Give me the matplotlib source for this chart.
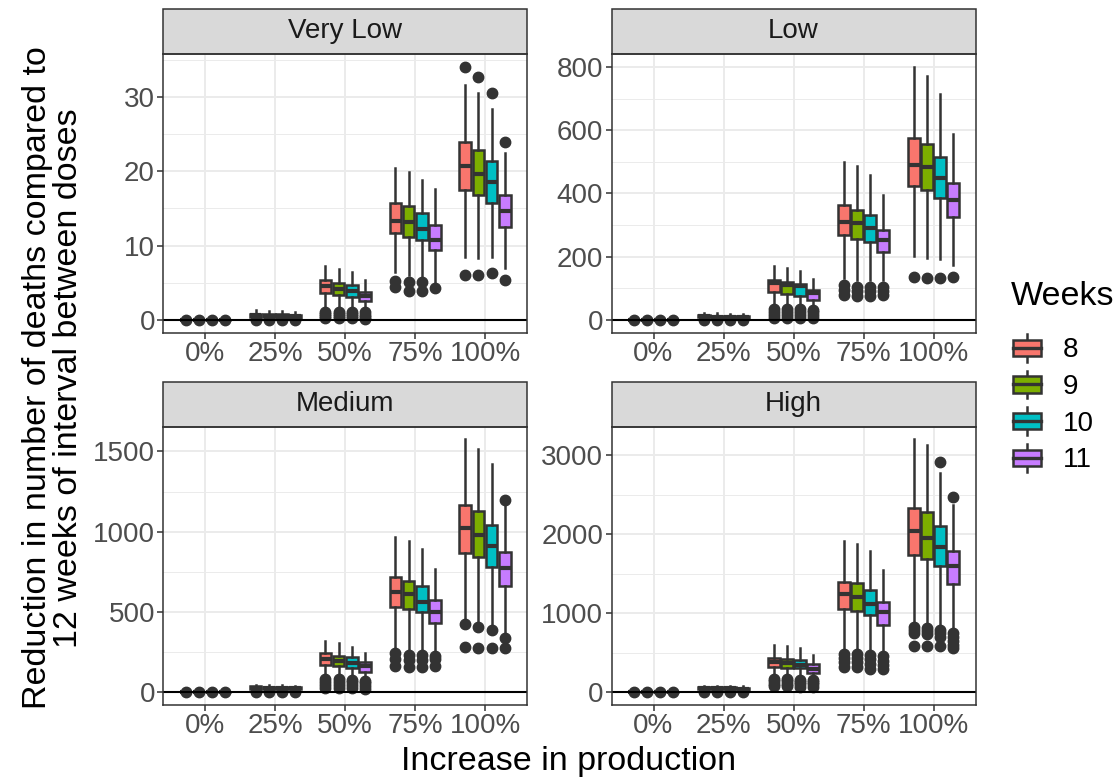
import matplotlib
matplotlib.use('Agg')
import matplotlib.pyplot as plt
from matplotlib.patches import Rectangle, Patch
from matplotlib.lines import Line2D
from matplotlib.legend_handler import HandlerBase
import numpy as np

plt.rcParams['font.family'] = ['Liberation Sans', 'DejaVu Sans']

categories = ['0%', '25%', '50%', '75%', '100%']
weeks = ['8', '9', '10', '11']
week_colors = ['#F8766D', '#7CAE00', '#00BFC4', '#C77CFF']
panels = ['Very Low', 'Low', 'Medium', 'High']

# box statistics: rows = categories, columns = weeks 8..11
# Very Low
vl_whislo = [[0, 0, 0, 0], [0.1, 0.1, 0.05, 0.05], [1.6, 1.6, 1.5, 1.3], [6.4, 6.1, 5.9, 4.9], [8.4, 8.3, 8.4, 7.0]]
vl_q1 = [[0, 0, 0, 0], [0.4, 0.35, 0.3, 0.25], [3.6, 3.4, 3.1, 2.6], [11.7, 11.2, 10.7, 9.4], [17.5, 16.8, 15.7, 12.5]]
vl_med = [[0, 0, 0, 0], [0.6, 0.55, 0.5, 0.45], [4.5, 4.2, 3.9, 3.2], [13.3, 13.2, 12.2, 10.8], [20.7, 19.7, 18.5, 14.7]]
vl_q3 = [[0, 0, 0, 0], [0.85, 0.8, 0.75, 0.7], [5.3, 4.9, 4.7, 3.8], [15.8, 15.3, 14.4, 12.8], [23.9, 22.9, 21.4, 16.8]]
vl_whishi = [[0, 0, 0, 0], [1.3, 1.25, 1.2, 1.1], [7.2, 6.8, 6.5, 5.3], [20.5, 19.9, 18.8, 17.6], [31.6, 30.5, 28.4, 22.5]]
vl_fliers = [[[0], [0], [0], [0]],
             [[0], [0], [0], [0]],
             [[0.2, 0.5, 0.8, 1.1], [0.2, 0.5, 0.8, 1.1], [0.2, 0.5, 0.8, 1.1], [0.1, 0.4, 0.7, 1.0]],
             [[4.4, 5.2], [3.9, 5.1], [3.9, 5.1], [4.3]],
             [[6.1, 34.1], [6.0, 32.7], [6.3, 30.5], [5.3, 23.9]]]
vl_ticks = [0, 10, 20, 30]

# Low
lo_whislo = [[0, 0, 0, 0], [3, 3, 2, 2], [42, 40, 38, 33], [132, 127, 127, 125], [201, 195, 192, 174]]
lo_q1 = [[0, 0, 0, 0], [8, 7, 6, 5], [88, 82, 77, 63], [267, 257, 246, 215], [425, 410, 384, 324]]
lo_med = [[0, 0, 0, 0], [11, 10, 9, 8], [116, 111, 106, 85], [308, 306, 291, 254], [491, 484, 449, 378]]
lo_q3 = [[0, 0, 0, 0], [14, 13, 12, 11], [127, 120, 114, 95], [362, 349, 331, 285], [576, 557, 516, 433]]
lo_whishi = [[0, 0, 0, 0], [22, 21, 20, 19], [171, 164, 155, 129], [500, 486, 457, 394], [801, 771, 713, 589]]
lo_fliers = [[[0], [0], [0], [0]],
             [[0], [0], [0], [0]],
             [[5, 15, 25, 35], [5, 15, 25, 35], [5, 15, 25, 35], [5, 15, 25, 30]],
             [[79, 95, 111], [74, 90, 105], [74, 90, 105], [78, 92, 105]],
             [[134], [131], [132], [134]]]
lo_ticks = [0, 200, 400, 600, 800]

# Medium
me_whislo = [[0, 0, 0, 0], [8, 8, 7, 6], [96, 92, 90, 80], [263, 255, 248, 240], [450, 440, 415, 367]]
me_q1 = [[0, 0, 0, 0], [22, 21, 20, 18], [173, 165, 154, 127], [529, 517, 498, 433], [867, 840, 783, 665]]
me_med = [[0, 0, 0, 0], [30, 28, 27, 25], [206, 194, 185, 163], [623, 615, 565, 502], [1023, 981, 908, 773]]
me_q3 = [[0, 0, 0, 0], [38, 36, 34, 32], [242, 229, 219, 190], [721, 696, 665, 575], [1169, 1127, 1042, 873]]
me_whishi = [[0, 0, 0, 0], [48, 46, 44, 42], [321, 308, 283, 246], [965, 940, 890, 765], [1575, 1517, 1423, 1158]]
me_fliers = [[[0], [0], [0], [0]],
             [[0], [0], [0], [0]],
             [[25, 45, 65, 80], [25, 45, 65, 80], [25, 45, 65, 75], [20, 40, 60, 70]],
             [[165, 205, 242], [160, 200, 235], [160, 200, 235], [165, 205, 225]],
             [[283, 425], [279, 408], [279, 388], [279, 340, 1196]]]
me_ticks = [0, 500, 1000, 1500]

# High
hi_whislo = [[0, 0, 0, 0], [20, 18, 18, 16], [200, 190, 185, 160], [533, 520, 510, 500], [872, 860, 851, 787]]
hi_q1 = [[0, 0, 0, 0], [40, 38, 37, 35], [322, 309, 304, 250], [1049, 1032, 981, 851], [1740, 1689, 1604, 1368]]
hi_med = [[0, 0, 0, 0], [55, 53, 51, 48], [385, 372, 352, 300], [1244, 1210, 1121, 1020], [2036, 1953, 1833, 1592]]
hi_q3 = [[0, 0, 0, 0], [68, 66, 64, 60], [436, 419, 415, 364], [1401, 1380, 1299, 1138], [2333, 2278, 2100, 1782]]
hi_whishi = [[0, 0, 0, 0], [85, 82, 80, 76], [597, 584, 567, 478], [1909, 1875, 1790, 1545], [3200, 3124, 2772, 2375]]
hi_fliers = [[[0], [0], [0], [0]],
             [[0], [0], [0], [0]],
             [[75, 110, 140, 170], [75, 110, 140, 165], [70, 105, 135, 160], [65, 100, 130, 150]],
             [[321, 380, 440, 491], [321, 380, 440, 491], [300, 360, 420, 470], [300, 350, 400, 460]],
             [[584, 745, 790, 830], [584, 740, 780, 820], [584, 702, 750, 787, 2908], [555, 600, 650, 700, 745, 2473]]]
hi_ticks = [0, 1000, 2000, 3000]

panel_data = [
    (vl_whislo, vl_q1, vl_med, vl_q3, vl_whishi, vl_fliers, vl_ticks),
    (lo_whislo, lo_q1, lo_med, lo_q3, lo_whishi, lo_fliers, lo_ticks),
    (me_whislo, me_q1, me_med, me_q3, me_whishi, me_fliers, me_ticks),
    (hi_whislo, hi_q1, hi_med, hi_q3, hi_whishi, hi_fliers, hi_ticks),
]

GREY20 = '#333333'
GREY30 = '#4D4D4D'
GRID = '#EBEBEB'
SMALL = 20
BIG = 24.5

W, H = 1120, 778
fig = plt.figure(figsize=(W / 100, H / 100), dpi=100)

# panel rectangles in pixels: left, top, right, bottom
boxes_px = [(163.3, 54, 527, 332.5), (611.5, 54, 975.5, 332.5),
            (163.3, 426.7, 527, 705), (611.5, 426.7, 975.5, 705)]
strip_h = 45

dodge = 0.75
n_w = len(weeks)
slot = dodge / n_w
offsets = [(-dodge / 2 + slot * (j + 0.5)) for j in range(n_w)]
box_w = slot * 0.9

for p, name in enumerate(panels):
    l, t, r, b = boxes_px[p]
    ax = fig.add_axes([l / W, 1 - b / H, (r - l) / W, (b - t) / H])
    whislo, q1, med, q3, whishi, fliers, ticks = panel_data[p]

    for j in range(n_w):
        stats = []
        for c in range(len(categories)):
            stats.append(dict(whislo=whislo[c][j], q1=q1[c][j], med=med[c][j],
                              q3=q3[c][j], whishi=whishi[c][j], fliers=fliers[c][j]))
        pos = [c + 1 + offsets[j] for c in range(len(categories))]
        ax.bxp(stats, positions=pos, widths=box_w, patch_artist=True, showcaps=False,
               manage_ticks=False,
               boxprops=dict(facecolor=week_colors[j], edgecolor=GREY20, linewidth=1.8),
               medianprops=dict(color=GREY20, linewidth=3.0),
               whiskerprops=dict(color=GREY20, linewidth=1.8),
               flierprops=dict(marker='o', markerfacecolor=GREY20, markeredgecolor=GREY20,
                               markersize=7.5))

    ax.axhline(0, color='black', linewidth=1.5, zorder=4)

    # limits like ggplot (5% expansion)
    allvals = [v for row in whishi for v in row] + [v for row in fliers for cell in row for v in cell] + [0]
    ymax, ymin = max(allvals), min(allvals)
    rng = ymax - ymin
    ylo, yhi = ymin - 0.05 * rng, ymax + 0.05 * rng
    ax.set_ylim(ylo, yhi)
    ax.set_xlim(0.4, len(categories) + 0.6)

    ax.set_xticks(range(1, len(categories) + 1))
    ax.set_xticklabels(categories)
    ax.set_yticks(ticks)
    ax.set_yticklabels([str(v) for v in ticks])
    step = ticks[1] - ticks[0]
    minors = [m for m in np.arange(ticks[0] - step / 2, yhi, step) if ylo < m < yhi]
    ax.set_yticks(minors, minor=True)
    ax.tick_params(axis='y', which='minor', length=0)

    ax.set_axisbelow(True)
    ax.grid(True, which='major', color=GRID, linewidth=1.4)
    ax.grid(True, which='minor', axis='y', color=GRID, linewidth=0.7)
    ax.tick_params(which='major', length=4, width=1.1, color=GREY20,
                   labelsize=SMALL, labelcolor=GREY30, pad=2)
    for s in ax.spines.values():
        s.set_color(GREY20)
        s.set_linewidth(1.1)
        s.set_zorder(5)

    # strip
    sh = strip_h / (b - t)
    ax.add_patch(Rectangle((0, 1), 1, sh, transform=ax.transAxes, clip_on=False,
                           facecolor='#D9D9D9', edgecolor=GREY20, linewidth=1.1))
    ax.text(0.5, 1 + sh / 2, name, transform=ax.transAxes, ha='center', va='center',
            fontsize=SMALL, color='#1A1A1A')


class BoxKey(HandlerBase):
    def create_artists(self, legend, orig_handle, xdescent, ydescent, width, height,
                       fontsize, trans):
        fc = orig_handle.get_facecolor()
        x0, y0 = -xdescent, -ydescent
        bh = height * 0.6
        by = y0 + (height - bh) / 2
        xm = x0 + width / 2
        arts = [
            Line2D([xm, xm], [y0, by], color=GREY20, lw=1.8, transform=trans),
            Line2D([xm, xm], [by + bh, y0 + height], color=GREY20, lw=1.8, transform=trans),
            Rectangle((x0, by), width, bh, facecolor=fc, edgecolor=GREY20, lw=1.8,
                      transform=trans),
            Line2D([x0, x0 + width], [by + bh / 2] * 2, color=GREY20, lw=2.4, transform=trans),
        ]
        return arts


handles = [Patch(facecolor=c) for c in week_colors]
leg = fig.legend(handles, weeks, loc='upper left',
                 bbox_to_anchor=(1013 / W, 1 - 334 / H), frameon=False,
                 handler_map={Patch: BoxKey()}, fontsize=SMALL,
                 handlelength=1.0, handleheight=1.15, labelspacing=0.27,
                 handletextpad=0.8, borderpad=0, borderaxespad=0)
fig.text(1011 / W, 1 - 297 / H, 'Weeks', ha='left', va='center', fontsize=BIG, color='black')

fig.text(569 / W, 8 / H, 'Increase in production', ha='center', va='baseline',
         fontsize=BIG, color='black')
fig.text(53 / W, 1 - 378 / H,
         'Reduction in number of deaths compared to\n12 weeks of interval between doses',
         rotation=90, ha='center', va='center', multialignment='center',
         fontsize=BIG, color='black', linespacing=1.0)

fig.savefig('out.png', dpi=100)
